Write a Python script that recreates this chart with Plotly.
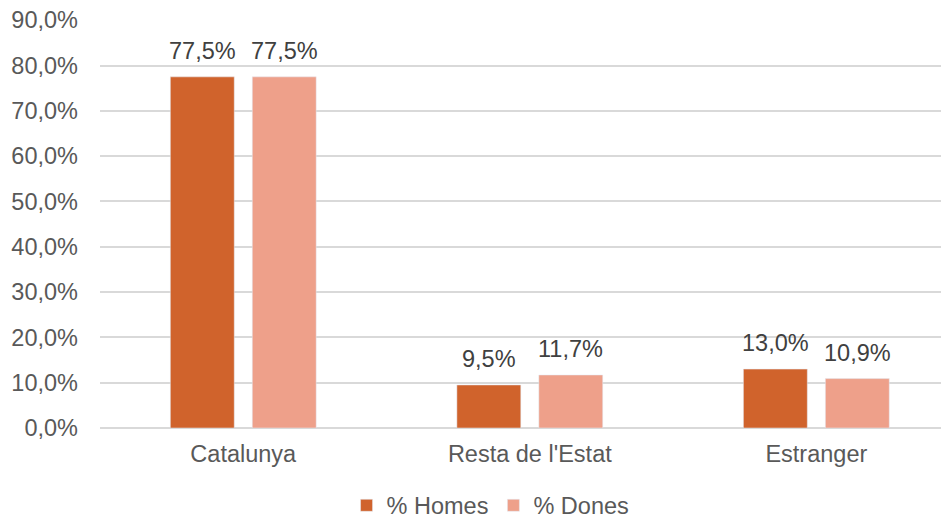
import plotly.graph_objects as go

categories = ["Catalunya", "Resta de l'Estat", "Estranger"]
homes = [77.5, 9.5, 13.0]
dones = [77.5, 11.7, 10.9]
tick_vals = [0, 10, 20, 30, 40, 50, 60, 70, 80, 90]
tick_text = ["0,0%", "10,0%", "20,0%", "30,0%", "40,0%", "50,0%", "60,0%", "70,0%", "80,0%", "90,0%"]

def fmt(v):
    return f"{v:.1f}".replace(".", ",") + "%"

FONT = "Liberation Sans, Arial, sans-serif"
FS = 23.5

fig = go.Figure()
fig.add_trace(go.Bar(name="% Homes", x=categories, y=homes, marker_color="#D0632C"))
fig.add_trace(go.Bar(name="% Dones", x=categories, y=dones, marker_color="#EEA08A"))

for series, shift in ((homes, -41), (dones, 41)):
    for c, v in zip(categories, series):
        fig.add_annotation(x=c, y=v, text=fmt(v), showarrow=False, xshift=shift,
                           yanchor="middle", yshift=26,
                           font=dict(size=FS, color="#404040", family=FONT))

fig.update_layout(
    width=941, height=512,
    margin=dict(l=92, r=0, t=12, b=92, autoexpand=False),
    paper_bgcolor="white", plot_bgcolor="white",
    barmode="group", bargap=0.428, bargroupgap=0.22,
    font=dict(family=FONT, size=FS, color="#595959"),
    legend=dict(orientation="h", x=0.46, xanchor="center", y=-0.19, yanchor="middle",
                font=dict(size=FS, color="#595959"), itemwidth=30, tracegroupgap=0),
    showlegend=True,
)
fig.update_yaxes(range=[0, 90.05], tickvals=tick_vals, ticktext=tick_text,
                 gridcolor="#D9D9D9", gridwidth=1.5, zeroline=True, zerolinecolor="#D9D9D9",
                 zerolinewidth=1.5, showline=False, ticks="", ticklabelstandoff=21,
                 ticklabeloverflow="allow", tickfont=dict(size=FS, color="#595959"))
fig.update_xaxes(range=[-0.5, 2.463], showline=False, ticks="",
                 tickfont=dict(size=FS, color="#595959"), ticklabelstandoff=9)

fig.write_html("out.html")
